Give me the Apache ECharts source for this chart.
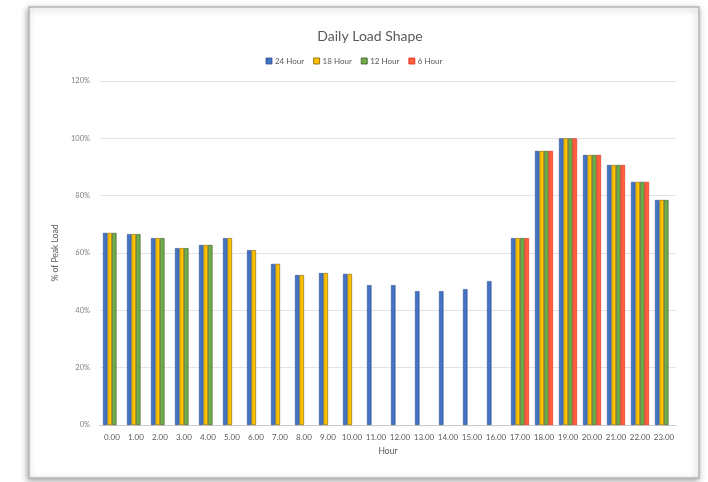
<!DOCTYPE html>
<html>
<head>
<meta charset="utf-8">
<script src="https://cdn.jsdelivr.net/npm/echarts@6/dist/echarts.min.js"></script>
<style>
  html, body { margin: 0; padding: 0; background: #ffffff; }
  #chart { width: 708px; height: 482px; }
</style>
</head>
<body>
<div id="chart"></div>
<script>
// Hour categories
const hours = ['0.00','1.00','2.00','3.00','4.00','5.00','6.00','7.00','8.00','9.00','10.00','11.00',
               '12.00','13.00','14.00','15.00','16.00','17.00','18.00','19.00','20.00','21.00','22.00','23.00'];

// Load as a fraction of peak (null = no operation in that hour)
const load24 = [0.670,0.666,0.652,0.617,0.628,0.652,0.610,0.562,0.523,0.530,0.527,0.488,
                0.488,0.467,0.467,0.474,0.502,0.652,0.956,1.000,0.942,0.907,0.848,0.785];
const load18 = [0.670,0.666,0.652,0.617,0.628,0.652,0.610,0.562,0.523,0.530,0.527,null,
                null,null,null,null,null,0.652,0.956,1.000,0.942,0.907,0.848,0.785];
const load12 = [0.670,0.666,0.652,0.617,0.628,null,null,null,null,null,null,null,
                null,null,null,null,null,0.652,0.956,1.000,0.942,0.907,0.848,0.785];
const load6  = [null,null,null,null,null,null,null,null,null,null,null,null,
                null,null,null,null,null,0.652,0.956,1.000,0.942,0.907,0.848,null];

const yTicks = [0, 0.2, 0.4, 0.6, 0.8, 1.0, 1.2];

const seriesDefs = [
  { name: '24 Hour', data: load24, color: '#4472C4', edge: '#2F528F' },
  { name: '18 Hour', data: load18, color: '#FFC000', edge: '#7F6000' },
  { name: '12 Hour', data: load12, color: '#70AD47', edge: '#375623' },
  { name: '6 Hour',  data: load6,  color: '#FF5F3A', edge: '#E0281A' }
];

const chart = echarts.init(document.getElementById('chart'), null, { renderer: 'canvas' });

chart.setOption({
  animation: false,
  backgroundColor: '#ffffff',
  graphic: [
    {
      type: 'rect',
      z: -10,
      shape: { x: 29, y: 7, width: 670, height: 471 },
      style: {
        fill: '#ffffff',
        stroke: '#b5b5b5',
        lineWidth: 1.5,
        shadowBlur: 6,
        shadowColor: 'rgba(0,0,0,0.35)',
        shadowOffsetX: -1,
        shadowOffsetY: 2
      },
      silent: true
    }
  ],
  title: {
    text: 'Daily Load Shape',
    left: 365,
    textAlign: 'center',
    top: 24,
    textStyle: { fontFamily: 'Lato, "Open Sans", sans-serif', fontSize: 14, fontWeight: 'normal', color: '#595959' }
  },
  legend: {
    top: 52,
    left: 'center',
    itemWidth: 6,
    itemHeight: 6,
    itemGap: 9,
    icon: 'rect',
    textStyle: { fontFamily: 'Lato, "Open Sans", sans-serif', fontSize: 8, color: '#595959', padding: [0, 0, 0, -2] },
    data: seriesDefs.map(s => ({ name: s.name, itemStyle: { color: s.color, borderColor: s.edge, borderWidth: 0.8 } }))
  },
  grid: { left: 100, right: 32, top: 81, bottom: 57, containLabel: false },
  xAxis: {
    type: 'category',
    data: hours,
    name: 'Hour',
    nameLocation: 'middle',
    nameGap: 22,
    nameTextStyle: { fontFamily: 'Lato, "Open Sans", sans-serif', fontSize: 8.5, color: '#595959' },
    axisLine: { lineStyle: { color: '#c8c8c8', width: 1 } },
    axisTick: { show: false },
    axisLabel: { fontFamily: 'Lato, "Open Sans", sans-serif', fontSize: 8, color: '#595959', margin: 8, interval: 0 }
  },
  yAxis: {
    type: 'value',
    min: yTicks[0],
    max: yTicks[yTicks.length - 1],
    interval: 0.2,
    name: '% of Peak Load',
    nameLocation: 'middle',
    nameGap: 36,
    nameRotate: 90,
    nameTextStyle: { fontFamily: 'Lato, "Open Sans", sans-serif', fontSize: 8.5, color: '#595959' },
    axisLine: { show: false },
    axisTick: { show: false },
    axisLabel: {
      fontFamily: 'Lato, "Open Sans", sans-serif',
      fontSize: 7.5,
      color: '#7f7f7f',
      margin: 10,
      formatter: v => Math.round(v * 100) + '%'
    },
    splitLine: { lineStyle: { color: '#e3e3e3', width: 1 } }
  },
  series: seriesDefs.map(s => ({
    type: 'bar',
    name: s.name,
    data: s.data,
    barWidth: 4.5,
    barGap: '0%',
    itemStyle: { color: s.color, borderColor: s.edge, borderWidth: 0.6 }
  }))
});
</script>
</body>
</html>
